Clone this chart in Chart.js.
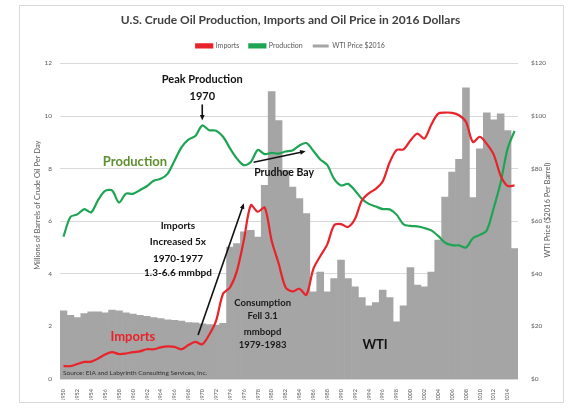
<!DOCTYPE html>
<html>
<head>
<meta charset="utf-8">
<script src="https://cdn.jsdelivr.net/npm/chart.js@4.4.1/dist/chart.umd.min.js"></script>
<style>
  html, body { margin: 0; padding: 0; background: #fff; }
  canvas { display: block; }
</style>
</head>
<body>
<canvas id="oilChart" width="571" height="412"></canvas>
<script>
// categories
const years = [
  1950, 1951, 1952, 1953, 1954, 1955, 1956, 1957, 1958, 1959,
  1960, 1961, 1962, 1963, 1964, 1965, 1966, 1967, 1968, 1969,
  1970, 1971, 1972, 1973, 1974, 1975, 1976, 1977, 1978, 1979,
  1980, 1981, 1982, 1983, 1984, 1985, 1986, 1987, 1988, 1989,
  1990, 1991, 1992, 1993, 1994, 1995, 1996, 1997, 1998, 1999,
  2000, 2001, 2002, 2003, 2004, 2005, 2006, 2007, 2008, 2009,
  2010, 2011, 2012, 2013, 2014, 2015
];

// million barrels per day
const imports = [
  0.49, 0.49, 0.57, 0.65, 0.66, 0.78, 0.93, 1.02, 0.95, 0.97,
  1.02, 1.05, 1.13, 1.13, 1.20, 1.24, 1.22, 1.13, 1.29, 1.41,
  1.32, 1.68, 2.22, 3.24, 3.48, 4.11, 5.29, 6.61, 6.36, 6.52,
  5.26, 4.40, 3.49, 3.33, 3.43, 3.20, 4.18, 4.67, 5.11, 5.84,
  5.89, 5.78, 6.08, 6.79, 7.06, 7.23, 7.51, 8.23, 8.71, 8.73,
  9.07, 9.33, 9.14, 9.67, 10.09, 10.13, 10.12, 10.03, 9.78, 9.01,
  9.21, 8.94, 8.53, 7.73, 7.34, 7.36
];

const production = [
  5.41, 6.16, 6.26, 6.46, 6.34, 6.81, 7.15, 7.17, 6.71, 7.05,
  7.04, 7.18, 7.33, 7.54, 7.61, 7.80, 8.30, 8.81, 9.10, 9.24,
  9.64, 9.46, 9.44, 9.21, 8.77, 8.38, 8.13, 8.25, 8.71, 8.55,
  8.60, 8.57, 8.65, 8.69, 8.88, 8.97, 8.68, 8.35, 8.14, 7.61,
  7.36, 7.42, 7.17, 6.85, 6.66, 6.56, 6.46, 6.45, 6.25, 5.88,
  5.82, 5.80, 5.74, 5.65, 5.44, 5.18, 5.09, 5.08, 5.00, 5.35,
  5.48, 5.65, 6.50, 7.47, 8.76, 9.43
];

// WTI price, 2016 dollars per barrel
const wtiPrice = [
  25.9, 24.2, 23.4, 24.9, 25.5, 25.5, 25.2, 26.2, 25.9, 25.2,
  24.7, 24.2, 23.8, 23.4, 23.0, 22.5, 22.3, 22.0, 21.5, 21.4,
  21.0, 20.7, 20.5, 21.2, 50.2, 51.5, 56.0, 56.5, 54.0, 73.6,
  109.3, 98.3, 79.3, 73.0, 68.6, 62.9, 33.1, 40.7, 33.1, 38.2,
  45.2, 38.2, 35.0, 31.0, 27.8, 29.1, 33.8, 31.0, 21.7, 27.8,
  42.4, 35.7, 35.0, 40.7, 52.8, 69.2, 78.7, 83.5, 110.7, 69.0,
  87.5, 101.2, 98.5, 100.8, 94.5, 49.6
];

// text written on the plot, placed by year and left-axis value
const notes = [
  { text: 'Peak Production', year: 1970, value: 11.39, size: 11, color: '#111' },
  { text: '1970', year: 1970, value: 10.74, size: 11, color: '#111' },
  { text: 'Production', year: 1960.3, value: 8.24, size: 13, color: '#5e8f2e' },
  { text: 'Prudhoe Bay', year: 1981.8, value: 7.86, size: 10.5, color: '#111' },
  { text: 'Imports', year: 1966.5, value: 5.81, size: 10, color: '#111' },
  { text: 'Increased 5x', year: 1966.5, value: 5.20, size: 10, color: '#111' },
  { text: '1970-1977', year: 1966.5, value: 4.59, size: 10, color: '#111' },
  { text: '1.3-6.6 mmbpd', year: 1966.5, value: 4.02, size: 10, color: '#111' },
  { text: 'Imports', year: 1960.0, value: 1.59, size: 13, color: '#e8232a' },
  { text: 'Consumption', year: 1978.7, value: 2.88, size: 9.5, color: '#1a1a1a' },
  { text: 'Fell 3.1', year: 1978.7, value: 2.39, size: 9.5, color: '#1a1a1a' },
  { text: 'mmbopd', year: 1978.7, value: 1.78, size: 9.5, color: '#1a1a1a' },
  { text: '1979-1983', year: 1978.7, value: 1.29, size: 9.5, color: '#1a1a1a' },
  { text: 'WTI', year: 1994.9, value: 1.29, size: 13, color: '#111' }
];

const arrows = [
  { from: [1970, 10.44], to: [1970, 9.83] },
  { from: [1977.4, 8.24], to: [1984.9, 8.66] },
  { from: [1969.4, 1.67], to: [1976.0, 6.68] }
];

const sourceText = 'Source: EIA and Labyrinth Consulting Services, Inc.';
const leftTitle = 'Millions of Barrels of Crude Oil Per Day';
const rightTitle = 'WTI Price ($2016 Per Barrel)';

const canvas = document.getElementById('oilChart');
const ctx = canvas.getContext('2d');

function rotatedText(c, text, x, y) {
  c.save();
  c.translate(x, y);
  c.rotate(-Math.PI / 2);
  c.fillText(text, 0, 0);
  c.restore();
}

const notesPlugin = {
  id: 'notes',
  beforeDraw(chart) {
    const c = chart.ctx;
    c.save();
    c.fillStyle = '#fff';
    c.fillRect(0, 0, chart.width, chart.height);
    c.strokeStyle = '#d9d9d9';
    c.lineWidth = 1;
    c.strokeRect(19.5, 5.5, 544, 397);
    c.restore();
  },
  afterDraw(chart) {
    const c = chart.ctx;
    const area = chart.chartArea;
    const mid = (area.top + area.bottom) / 2;
    c.save();
    c.font = '7.5px Lato, "Open Sans", sans-serif';
    c.fillStyle = '#595959';
    c.textAlign = 'center';
    c.textBaseline = 'middle';
    rotatedText(c, leftTitle, area.left - 22, mid - 16);
    rotatedText(c, rightTitle, area.right + 30, mid - 11);
    c.restore();
  },
  afterDatasetsDraw(chart) {
    const c = chart.ctx;
    const x = chart.scales.x;
    const y = chart.scales.y;
    const px = yr => x.getPixelForValue(yr - years[0]);

    c.save();
    c.textAlign = 'center';
    c.textBaseline = 'middle';
    notes.forEach(n => {
      c.font = 'bold ' + n.size + 'px Lato, "Open Sans", sans-serif';
      c.fillStyle = n.color;
      c.fillText(n.text, px(n.year), y.getPixelForValue(n.value));
    });

    c.strokeStyle = '#111';
    c.fillStyle = '#111';
    c.lineWidth = 1.6;
    arrows.forEach(a => {
      const x1 = px(a.from[0]), y1 = y.getPixelForValue(a.from[1]);
      const x2 = px(a.to[0]), y2 = y.getPixelForValue(a.to[1]);
      const ang = Math.atan2(y2 - y1, x2 - x1);
      const head = 6;
      c.beginPath();
      c.moveTo(x1, y1);
      c.lineTo(x2 - Math.cos(ang) * head * 0.8, y2 - Math.sin(ang) * head * 0.8);
      c.stroke();
      c.beginPath();
      c.moveTo(x2, y2);
      c.lineTo(x2 - head * Math.cos(ang - 0.4), y2 - head * Math.sin(ang - 0.4));
      c.lineTo(x2 - head * Math.cos(ang + 0.4), y2 - head * Math.sin(ang + 0.4));
      c.closePath();
      c.fill();
    });

    c.font = '6.5px Lato, "Open Sans", sans-serif';
    c.fillStyle = '#333';
    c.textAlign = 'left';
    c.fillText(sourceText, chart.chartArea.left + 3, y.getPixelForValue(0.23));
    c.restore();
  }
};

const chart = new Chart(ctx, {
  type: 'bar',
  data: {
    labels: years.map(String),
    datasets: [
      {
        type: 'line',
        label: 'Imports',
        data: imports,
        borderColor: '#e8232a',
        backgroundColor: '#e8232a',
        borderWidth: 2.2,
        pointRadius: 0,
        tension: 0.3,
        yAxisID: 'y',
        order: 1
      },
      {
        type: 'line',
        label: 'Production',
        data: production,
        borderColor: '#1ea554',
        backgroundColor: '#1ea554',
        borderWidth: 2.2,
        pointRadius: 0,
        tension: 0.3,
        yAxisID: 'y',
        order: 1
      },
      {
        label: 'WTI Price $2016',
        data: wtiPrice,
        backgroundColor: '#a5a5a5',
        borderWidth: 0,
        categoryPercentage: 1,
        barPercentage: 1,
        yAxisID: 'y1',
        order: 2
      }
    ]
  },
  options: {
    responsive: false,
    animation: false,
    layout: { padding: { left: 20, right: 10, top: 3, bottom: 12 } },
    plugins: {
      title: {
        display: true,
        text: 'U.S. Crude Oil Production, Imports and Oil Price in 2016 Dollars',
        color: '#404040',
        font: { family: 'Lato', size: 12, weight: 'bold' },
        padding: { top: 10, bottom: 5 }
      },
      subtitle: {
        display: true,
        text: ' ',
        weight: 500,
        font: { size: 2, lineHeight: 1 },
        padding: { top: 2, bottom: 0 }
      },
      legend: {
        labels: {
          boxWidth: 16,
          boxHeight: 3,
          padding: 10,
          color: '#595959',
          font: { family: 'Lato', size: 7 }
        }
      },
      tooltip: { enabled: false }
    },
    scales: {
      x: {
        grid: { display: false },
        border: { display: false },
        ticks: {
          autoSkip: false,
          maxRotation: 90,
          minRotation: 90,
          padding: 2,
          color: '#595959',
          font: { family: 'Lato', size: 5.5 },
          callback: function (val, i) {
            return i % 2 === 0 ? this.getLabelForValue(val) : '';
          }
        },
        afterFit: s => { s.height = 21; }
      },
      y: {
        position: 'left',
        min: 0,
        max: 12,
        ticks: {
          stepSize: 2,
          padding: 8,
          color: '#595959',
          font: { family: 'Lato', size: 6.5 }
        },
        grid: { color: '#d9d9d9', drawTicks: false },
        border: { display: false },
        afterFit: s => { s.width = 40; }
      },
      y1: {
        position: 'right',
        min: 0,
        max: 120,
        ticks: {
          stepSize: 20,
          padding: 5,
          color: '#595959',
          font: { family: 'Lato', size: 6.5 },
          callback: v => '$' + v
        },
        grid: { display: false },
        border: { display: false },
        afterFit: s => { s.width = 43; }
      }
    }
  },
  plugins: [notesPlugin]
});
</script>
</body>
</html>
